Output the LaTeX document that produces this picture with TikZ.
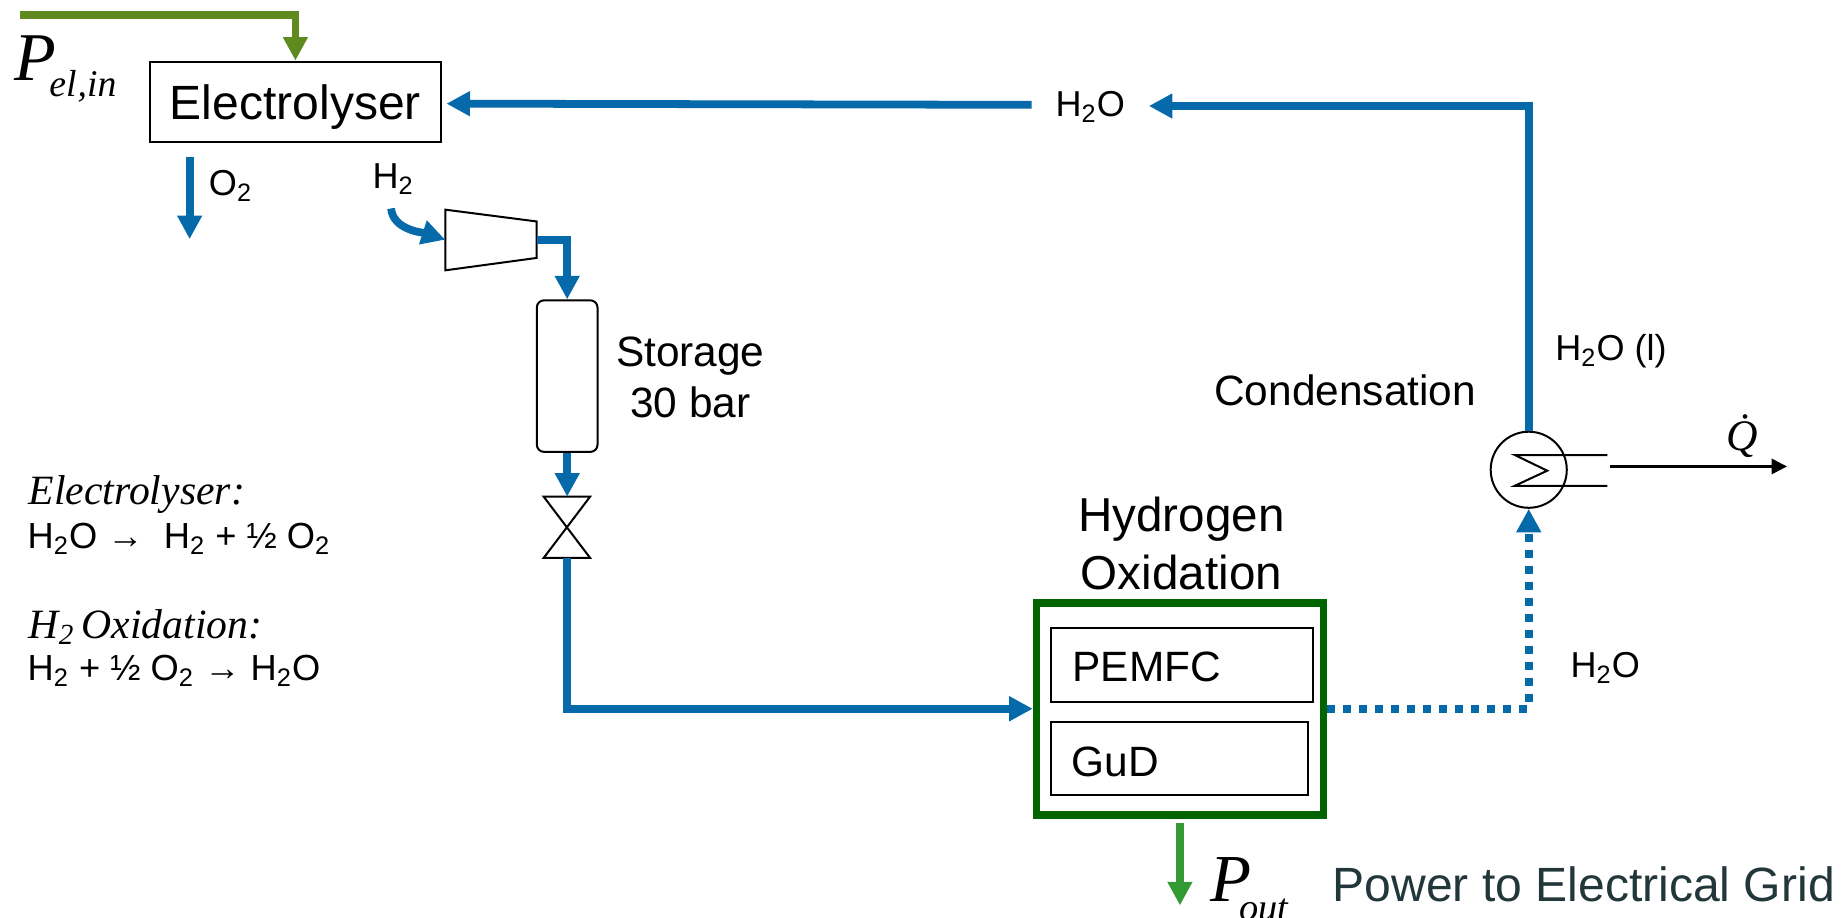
\documentclass[tikz,border=0pt]{standalone}
\usepackage{fontspec}
\setmainfont{Liberation Sans}
\newfontfamily\serifItalic[ItalicFont={Liberation Serif Italic}]{Liberation Serif}
\usetikzlibrary{arrows.meta}
\definecolor{xBlue}{RGB}{5,105,170}
\definecolor{xGreenIn}{RGB}{95,138,30}
\definecolor{xGreenOut}{RGB}{51,153,51}
\definecolor{xDarkGreen}{RGB}{0,100,0}
\definecolor{xSlate}{RGB}{34,55,58}
\tikzset{
    blueline/.style={xBlue, line width=3.3pt, -{Triangle[width=10pt,length=10pt]}},
    thinbox/.style={draw=black, line width=0.85pt, inner sep=0pt},
    thinline/.style={black, line width=0.85pt, line join=miter},
    label15/.style={font=\fontsize{15.3}{18}\selectfont, inner sep=0pt},
    label18/.style={font=\fontsize{18}{21.5}\selectfont, inner sep=0pt, align=center},
    label20/.style={font=\fontsize{20.2}{24.5}\selectfont, inner sep=0pt, align=center},
    formulatitle/.style={font=\fontsize{17.7}{21}\selectfont\serifItalic\itshape, inner sep=0pt, anchor=base west},
    formula/.style={font=\fontsize{15.4}{18}\selectfont, inner sep=0pt, anchor=base west}
}
\begin{document}
\begin{tikzpicture}[x=0.5pt,y=-0.5pt]

    % -------------------------------------------------
    % Page size and background
    % -------------------------------------------------
    \useasboundingbox (0,0) rectangle (1568,779);
    \fill[white] (0,0) rectangle (1568,779);

    % -------------------------------------------------
    % Boxes
    % -------------------------------------------------
    \node[thinbox, minimum width=123.8pt, minimum height=34pt, text height=15pt, text depth=0pt, font=\fontsize{20.4}{24}\selectfont]
        (electrolyser) at (250.8,86.3) {Electrolyser};
    \node[thinbox, rounded corners=3pt, minimum width=25.75pt, minimum height=64.3pt]
        (storage) at (481.5,319.3) {};
    \node[draw=xDarkGreen, line width=3.2pt, minimum width=121.75pt, minimum height=90pt, inner sep=0pt]
        (oxidation) at (1001.7,601.7) {};
    \node[thinbox, minimum height=31.5pt, text width=93pt, text height=14pt, text depth=0pt, align=left, inner xsep=9pt, font=\fontsize{18}{21}\selectfont]
        (pemfc) at (1003.5,564.6) {PEMFC};
    \node[thinbox, minimum height=31pt, text width=91.4pt, text height=15.5pt, text depth=0pt, align=left, inner xsep=9pt, font=\fontsize{18}{21}\selectfont]
        (gud) at (1001.4,644) {GuD};
    \node[draw=black, circle, line width=0.85pt, minimum size=32.3pt, inner sep=0pt]
        (condenser) at (1297.8,398.8) {};

    % -------------------------------------------------
    % Labels
    % -------------------------------------------------
    \node[label15] (waterTop) at (925.5,91) {H\textsubscript{2}O};
    \node[label15, anchor=west] (oxygenLabel) at (177,158) {O\textsubscript{2}};
    \node[label15, anchor=west] (hydrogenLabel) at (316,152) {H\textsubscript{2}};
    \node[label15, anchor=west] (waterLiquid) at (1320,298) {H\textsubscript{2}O (l)};
    \node[label15, anchor=west] (waterSteam) at (1333,567) {H\textsubscript{2}O};
    \node[label18] (storageLabel) at (586,320.5) {Storage\\30 bar};
    \node[label18] (condensationLabel) at (1142,331) {Condensation};
    \node[label20] (oxidationLabel) at (1003,461.5) {Hydrogen\\Oxidation};
    \node[label20, font=\fontsize{20.4}{24.5}\selectfont, xSlate, anchor=base west] (gridLabel) at (1131,765) {Power to Electrical Grid};

    \node[inner sep=0pt, anchor=base west, font=\fontsize{29}{30}\selectfont\serifItalic\itshape]
        (pelLabel) at (12,68) {P\kern-3pt\raisebox{-7pt}{\fontsize{16}{18}\selectfont el\kern0.5pt,in}};
    \node[inner sep=0pt, anchor=base west, font=\fontsize{28.5}{30}\selectfont\serifItalic\itshape]
        (poutLabel) at (1027,765.4) {P\kern-5pt\raisebox{-8pt}{\fontsize{16.3}{18}\selectfont out}};
    \node[inner sep=0pt, font=\fontsize{18.5}{20}\selectfont\serifItalic\itshape]
        (heatLabel) at (1479,370) {\.Q};

    % -------------------------------------------------
    % Reactions on the left
    % -------------------------------------------------
    \node[formulatitle] (reactionOne) at (24,428) {Electrolyser:};
    \node[formula] (equationOne) at (23,466) {H\textsubscript{2}O → \ H\textsubscript{2} + ½ O\textsubscript{2}};
    \node[formulatitle] (reactionTwo) at (24,542) {H\textsubscript{2}\kern-1.5pt\ Oxidation:};
    \node[formula] (equationTwo) at (23,578) {H\textsubscript{2} + ½ O\textsubscript{2} → H\textsubscript{2}O};

    % -------------------------------------------------
    % Free ends and ports of the hand drawn symbols
    % -------------------------------------------------
    \coordinate (pelStart) at (17.4,12.7);
    \coordinate (waterIn) at (379,88);
    \coordinate (oxygenStart) at (161,133);
    \coordinate (oxygenEnd) at (161,203);
    \coordinate (hydrogenStart) at (332,177);
    \coordinate (compIn) at (378,203.5);
    \coordinate (compOut) at (455.5,203.5);
    \coordinate (valveTop) at (481.5,421.6);
    \coordinate (valveBottom) at (481.5,473.7);
    \coordinate (powerStart) at (1001.7,698.7);
    \coordinate (powerEnd) at (1001.7,768.6);
    \coordinate (heatStart) at (1367,396);
    \coordinate (heatEnd) at (1517,396);

    % -------------------------------------------------
    % Compressor and valve
    % -------------------------------------------------
    \draw[thinline] (378,178) -- (455.5,188) -- (455.5,219) -- (378,229.5) -- cycle;
    \draw[thinline]
        (461.5,421.6) -- (501,421.6) --
        (461.5,473.7) -- (501,473.7) -- cycle;

    % -------------------------------------------------
    % Coil inside the condenser
    % -------------------------------------------------
    \draw[thinline] (1364.6,386.3) -- (1286,386.3) -- (1313.5,399.6) -- (1286,412.4) -- (1364.6,412.4);

    % -------------------------------------------------
    % Connectors
    % -------------------------------------------------
    \draw[blueline, xGreenIn] (pelStart) -| (electrolyser.north);
    \draw[blueline] ([xshift=-10pt,yshift=1pt]waterTop.west) -- (waterIn);
    \draw[blueline] (condenser.north) |- ([xshift=10pt,yshift=0.5pt]waterTop.east);
    \draw[blueline] (oxygenStart) -- (oxygenEnd);
    \draw[blueline] (hydrogenStart) to[out=-85,in=162,looseness=0.9] (compIn);
    \draw[blueline] (compOut) -| (storage.north);
    \draw[blueline] (storage.south) -- (valveTop);
    \draw[blueline] (valveBottom) |- (oxidation.west);
    \draw[blueline, dash pattern=on 3.4pt off 3.4pt] (oxidation.east) -| (condenser.south);
    \draw[blueline, xGreenOut] (powerStart) -- (powerEnd);
    \draw[black, line width=1pt, -{Triangle[width=6.5pt,length=6.5pt]}] (heatStart) -- (heatEnd);

\end{tikzpicture}
\end{document}
